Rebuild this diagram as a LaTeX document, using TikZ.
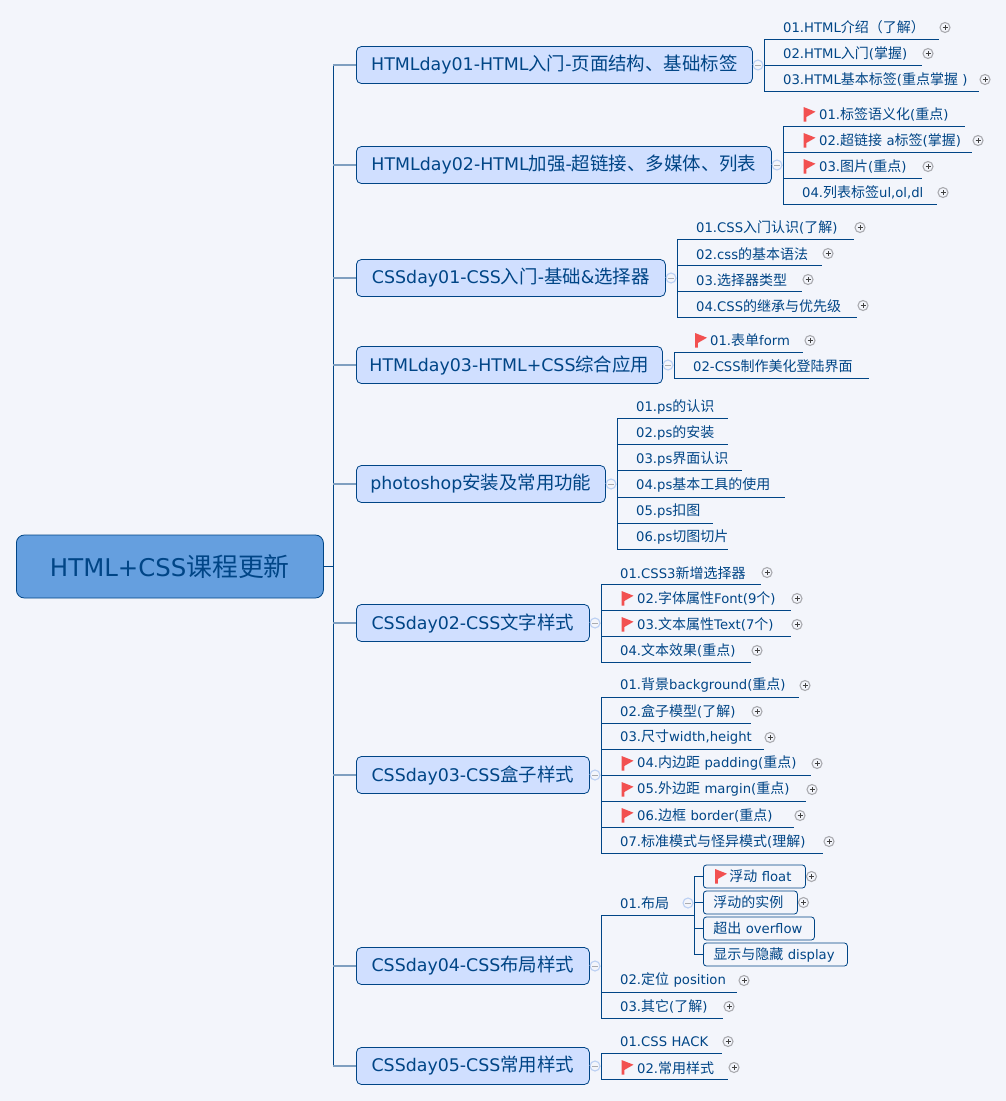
\documentclass[tikz,border=0pt]{standalone}
\usepackage{fontspec}
\setmainfont{DejaVu Sans}
\newfontfamily\zhfont{Noto Sans CJK SC}
% Chinese letters switch to zhfont on their own
\XeTeXinterchartokenstate=1
\newXeTeXintercharclass\zhclass
\newcount\zhchar
\newcommand{\zhrange}[2]{\zhchar=#1\relax\loop\XeTeXcharclass\zhchar=\zhclass\relax\ifnum\zhchar<#2\relax\advance\zhchar by 1\repeat}
\zhrange{"3000}{"303F}
\zhrange{"4E00}{"9FFF}
\zhrange{"FF00}{"FFEF}
\XeTeXinterchartoks 0 \zhclass={\begingroup\zhfont\fontsize{1.06em}{1em}\selectfont}
\XeTeXinterchartoks 4095 \zhclass={\begingroup\zhfont\fontsize{1.06em}{1em}\selectfont}
\XeTeXinterchartoks \zhclass 0={\endgroup}
\XeTeXinterchartoks \zhclass 4095={\endgroup}
\definecolor{paper}{HTML}{F3F5FB}
\definecolor{ink}{HTML}{004586}
\definecolor{rootfill}{HTML}{659FDF}
\definecolor{topicfill}{HTML}{D0DFFF}
\definecolor{spoke}{HTML}{7F9FC0}
\definecolor{redflag}{HTML}{F25050}
\tikzset{
	root/.style={shape=rectangle, rounded corners=8pt, draw=ink, fill=rootfill, line width=0.8pt, text=ink, minimum width=307pt, minimum height=63pt, inner sep=0pt, anchor=west, font=\fontsize{24.4}{26}\selectfont},
	topic/.style={shape=rectangle, rounded corners=5pt, draw=ink, fill=topicfill, line width=0.8pt, text=ink, minimum height=37pt, inner sep=0pt, anchor=west, font=\fontsize{17.4}{20}\selectfont},
	leaf/.style 2 args={shape=rectangle, text=ink, text width=#1pt, minimum height=23pt, inner sep=0pt, align=left, anchor=south west, font=\fontsize{13.2}{15}\selectfont, execute at begin node={\hspace*{#2pt}}},
	box/.style 2 args={shape=rectangle, rounded corners=3pt, draw=ink, fill=paper, line width=0.8pt, text=ink, text width=#1pt, minimum height=23pt, inner sep=0pt, align=left, anchor=west, font=\fontsize{13.2}{15}\selectfont, execute at begin node={\hspace*{#2pt}}},
	wire/.style={draw=ink, line width=1pt},
	arm/.style={draw=spoke, line width=1.6pt},
	plusdot/.style={shape=circle, draw=black!30!paper, fill=paper, line width=1.1pt, minimum size=10pt, inner sep=0pt, path picture={\draw[black!75, line width=0.7pt] ([xshift=-2.5pt]path picture bounding box.center) -- ([xshift=2.5pt]path picture bounding box.center) ([yshift=-2.5pt]path picture bounding box.center) -- ([yshift=2.5pt]path picture bounding box.center);}},
	minusdot/.style={shape=circle, draw=topicfill!90!ink, fill=paper, line width=1.1pt, minimum size=10pt, inner sep=0pt, path picture={\draw[black!30!paper, line width=0.8pt] ([xshift=-3pt]path picture bounding box.center) -- ([xshift=3pt]path picture bounding box.center);}},
	pics/flag/.style={code={\fill[redflag] (0,-7) -- (12,-2.3) -- (2.8,3) -- (2.8,7.5) -- (0,7.5) -- cycle;}}
}

\begin{document}
\begin{tikzpicture}[x=1pt,y=-1pt]
	\fill[paper] (0,0) rectangle (1006,1101);
	\useasboundingbox (0,0) rectangle (1006,1101);
	% Root and topics:
	\node[root] (root) at (16,566.5){HTML+CSS课程更新};
	\coordinate (hub) at (333,566.5);
	\node[topic, minimum width=396pt] (t1) at (356,65){HTMLday01-HTML入门-页面结构、基础标签};
	\node[topic, minimum width=415pt] (t2) at (356,165){HTMLday02-HTML加强-超链接、多媒体、列表};
	\node[topic, minimum width=309pt] (t3) at (356,278){CSSday01-CSS入门-基础\&选择器};
	\node[topic, minimum width=306pt] (t4) at (356,365){HTMLday03-HTML+CSS综合应用};
	\node[topic, minimum width=249pt] (t5) at (356,484){photoshop安装及常用功能};
	\node[topic, minimum width=233pt] (t6) at (356,623){CSSday02-CSS文字样式};
	\node[topic, minimum width=233pt] (t7) at (356,775){CSSday03-CSS盒子样式};
	\node[topic, minimum width=233pt] (t8) at (356,966){CSSday04-CSS布局样式};
	\node[topic, minimum width=233pt] (t9) at (356,1066){CSSday05-CSS常用样式};
	% Leaves:
	\node[leaf={175}{19}] (l11) at (764,39){01.HTML介绍（了解）};
	\node[leaf={158}{19}] (l12) at (764,65){02.HTML入门(掌握)};
	\node[leaf={215}{19}] (l13) at (764,91){03.HTML基本标签(重点掌握 )};
	\node[leaf={182}{36}] (l21) at (783,126.5){01.标签语义化(重点)};
	\node[leaf={189}{36}] (l22) at (783,152.5){02.超链接 a标签(掌握)};
	\node[leaf={139}{36}] (l23) at (783,178.5){03.图片(重点)};
	\node[leaf={154}{19}] (l24) at (783,204.5){04.列表标签ul,ol,dl};
	\node[leaf={177}{19}] (l31) at (677,239.5){01.CSS入门认识(了解)};
	\node[leaf={145}{19}] (l32) at (677,265.5){02.css的基本语法};
	\node[leaf={125}{19}] (l33) at (677,291.5){03.选择器类型};
	\node[leaf={180}{19}] (l34) at (677,317.5){04.CSS的继承与优先级};
	\node[leaf={129}{36}] (l41) at (674,352){01.表单form};
	\node[leaf={195}{19}] (l42) at (674,378){02-CSS制作美化登陆界面};
	\node[leaf={111}{19}] (l51) at (617,418.5){01.ps的认识};
	\node[leaf={111}{19}] (l52) at (617,444.5){02.ps的安装};
	\node[leaf={125}{19}] (l53) at (617,470.5){03.ps界面认识};
	\node[leaf={168}{19}] (l54) at (617,497){04.ps基本工具的使用};
	\node[leaf={96}{19}] (l55) at (617,523){05.ps扣图};
	\node[leaf={111}{19}] (l56) at (617,549){06.ps切图切片};
	\node[leaf={160}{19}] (l61) at (601,584.5){01.CSS3新增选择器};
	\node[leaf={190}{36}] (l62) at (601,610.5){02.字体属性Font(9个)};
	\node[leaf={190}{36}] (l63) at (601,636.5){03.文本属性Text(7个)};
	\node[leaf={150}{19}] (l64) at (601,662.5){04.文本效果(重点)};
	\node[leaf={198}{19}] (l71) at (601,697){01.背景background(重点)};
	\node[leaf={150}{19}] (l72) at (601,723){02.盒子模型(了解)};
	\node[leaf={163}{19}] (l73) at (601,749){03.尺寸width,height};
	\node[leaf={210}{36}] (l74) at (601,775){04.内边距 padding(重点)};
	\node[leaf={205}{36}] (l75) at (601,801){05.外边距 margin(重点)};
	\node[leaf={193}{36}] (l76) at (601,827){06.边框 border(重点)};
	\node[leaf={222}{19}] (l77) at (601,853){07.标准模式与怪异模式(理解)};
	\node[leaf={93}{19}] (l81) at (601,915){01.布局};
	\node[leaf={136}{19}] (l82) at (601,992){02.定位 position};
	\node[leaf={122}{19}] (l83) at (601,1018){03.其它(了解)};
	\node[leaf={121}{19}] (l91) at (601,1053){01.CSS HACK};
	\node[leaf={127}{36}] (l92) at (601,1079.5){02.常用样式};
	% Boxes under 01.布局:
	\coordinate (sub) at (694,903);
	\node[box={102}{26}] (b1) at (703,876.5){浮动 float};
	\node[box={94}{10}] (b2) at (703,902.5){浮动的实例};
	\node[box={111}{10}] (b3) at (703,928.5){超出 overflow};
	\node[box={144}{10}] (b4) at (703,954.5){显示与隐藏 display};
	% Spine and arms:
	\draw[wire] (root.east) -- (hub);
	\draw[wire] (hub |- t1.west) -- (hub |- t9.west);
	\draw[arm] (hub |- t1.west) -- (t1.west);
	\draw[arm] (hub |- t2.west) -- (t2.west);
	\draw[arm] (hub |- t3.west) -- (t3.west);
	\draw[arm] (hub |- t4.west) -- (t4.west);
	\draw[arm] (hub |- t5.west) -- (t5.west);
	\draw[arm] (hub |- t6.west) -- (t6.west);
	\draw[arm] (hub |- t7.west) -- (t7.west);
	\draw[arm] (hub |- t8.west) -- (t8.west);
	\draw[arm] (hub |- t9.west) -- (t9.west);
	% Brackets:
	\draw[wire] (l11.south west) -- (l13.south west);
	\draw[wire] (l21.south west) -- (l24.south west);
	\draw[wire] (l31.south west) -- (l34.south west);
	\draw[wire] (l41.south west) -- (l42.south west);
	\draw[wire] (l51.south west) -- (l56.south west);
	\draw[wire] (l61.south west) -- (l64.south west);
	\draw[wire] (l71.south west) -- (l77.south west);
	\draw[wire] (l81.south west) -- (l83.south west);
	\draw[wire] (l91.south west) -- (l92.south west);
	\draw[wire] (sub |- b1.west) -- (sub |- b4.west);
	% Underlines:
	\draw[wire] (l11.south west) -- (l11.south east);
	\draw[wire] (l12.south west) -- (l12.south east);
	\draw[wire] (l13.south west) -- (l13.south east);
	\draw[wire] (l21.south west) -- (l21.south east);
	\draw[wire] (l22.south west) -- (l22.south east);
	\draw[wire] (l23.south west) -- (l23.south east);
	\draw[wire] (l24.south west) -- (l24.south east);
	\draw[wire] (l31.south west) -- (l31.south east);
	\draw[wire] (l32.south west) -- (l32.south east);
	\draw[wire] (l33.south west) -- (l33.south east);
	\draw[wire] (l34.south west) -- (l34.south east);
	\draw[wire] (l41.south west) -- (l41.south east);
	\draw[wire] (l42.south west) -- (l42.south east);
	\draw[wire] (l51.south west) -- (l51.south east);
	\draw[wire] (l52.south west) -- (l52.south east);
	\draw[wire] (l53.south west) -- (l53.south east);
	\draw[wire] (l54.south west) -- (l54.south east);
	\draw[wire] (l55.south west) -- (l55.south east);
	\draw[wire] (l56.south west) -- (l56.south east);
	\draw[wire] (l61.south west) -- (l61.south east);
	\draw[wire] (l62.south west) -- (l62.south east);
	\draw[wire] (l63.south west) -- (l63.south east);
	\draw[wire] (l64.south west) -- (l64.south east);
	\draw[wire] (l71.south west) -- (l71.south east);
	\draw[wire] (l72.south west) -- (l72.south east);
	\draw[wire] (l73.south west) -- (l73.south east);
	\draw[wire] (l74.south west) -- (l74.south east);
	\draw[wire] (l75.south west) -- (l75.south east);
	\draw[wire] (l76.south west) -- (l76.south east);
	\draw[wire] (l77.south west) -- (l77.south east);
	\draw[wire] (l81.south west) -- (l81.south east);
	\draw[wire] (l82.south west) -- (l82.south east);
	\draw[wire] (l83.south west) -- (l83.south east);
	\draw[wire] (l91.south west) -- (l91.south east);
	\draw[wire] (l92.south west) -- (l92.south east);
	% Collapse dots:
	\node[minusdot] (m1) at (758,65){};
	\node[minusdot] (m2) at (777,165){};
	\node[minusdot] (m3) at (671,278){};
	\node[minusdot] (m4) at (668,365){};
	\node[minusdot] (m5) at (611,484){};
	\node[minusdot] (m6) at (595,623){};
	\node[minusdot] (m7) at (595,775){};
	\node[minusdot] (m8) at (595,966){};
	\node[minusdot] (m9) at (595,1066){};
	\node[minusdot] (m81) at (688,903){};
	\draw[wire] (t1.east) -- (m1.west) (m1.east) -- (m1 -| l11.south west);
	\draw[wire] (t2.east) -- (m2.west) (m2.east) -- (m2 -| l21.south west);
	\draw[wire] (t3.east) -- (m3.west) (m3.east) -- (m3 -| l31.south west);
	\draw[wire] (t4.east) -- (m4.west) (m4.east) -- (m4 -| l41.south west);
	\draw[wire] (t5.east) -- (m5.west) (m5.east) -- (m5 -| l51.south west);
	\draw[wire] (t6.east) -- (m6.west) (m6.east) -- (m6 -| l61.south west);
	\draw[wire] (t7.east) -- (m7.west) (m7.east) -- (m7 -| l71.south west);
	\draw[wire] (t8.east) -- (m8.west) (m8.east) -- (m8 -| l81.south west);
	\draw[wire] (t9.east) -- (m9.west) (m9.east) -- (m9 -| l91.south west);
	\draw[wire] (m81.east) -- (sub);
	\draw[wire] (sub |- b1.west) -- (b1.west);
	\draw[wire] (sub |- b2.west) -- (b2.west);
	\draw[wire] (sub |- b3.west) -- (b3.west);
	\draw[wire] (sub |- b4.west) -- (b4.west);
	% Expand dots:
	\node[plusdot] (p11) at (945,27.5){};
	\node[plusdot] (p12) at (928,53.5){};
	\node[plusdot] (p13) at (985,79.5){};
	\node[plusdot] (p22) at (978,140.5){};
	\node[plusdot] (p23) at (928,166.5){};
	\node[plusdot] (p24) at (943,192.5){};
	\node[plusdot] (p31) at (860,227.5){};
	\node[plusdot] (p32) at (828,253.5){};
	\node[plusdot] (p33) at (808,279.5){};
	\node[plusdot] (p34) at (863,305.5){};
	\node[plusdot] (p41) at (810,340.5){};
	\node[plusdot] (p61) at (767,572.5){};
	\node[plusdot] (p62) at (797,598.5){};
	\node[plusdot] (p63) at (797,624.5){};
	\node[plusdot] (p64) at (757,650.5){};
	\node[plusdot] (p71) at (805,685.5){};
	\node[plusdot] (p72) at (757,711.5){};
	\node[plusdot] (p73) at (770,737.5){};
	\node[plusdot] (p74) at (817,763.5){};
	\node[plusdot] (p75) at (812,789.5){};
	\node[plusdot] (p76) at (800,815.5){};
	\node[plusdot] (p77) at (829,841.5){};
	\node[plusdot] (p82) at (744,980.5){};
	\node[plusdot] (p83) at (729,1006.5){};
	\node[plusdot] (p91) at (728,1041.5){};
	\node[plusdot] (p92) at (734,1067.5){};
	\node[plusdot] (pb1) at (811.5,876.5){};
	\node[plusdot] (pb2) at (803.5,902.5){};
	% Flags:
	\pic at (803.5,114) {flag};
	\pic at (803.5,140) {flag};
	\pic at (803.5,166) {flag};
	\pic at (695,340) {flag};
	\pic at (621.5,598) {flag};
	\pic at (621.5,624) {flag};
	\pic at (621.5,763) {flag};
	\pic at (621.5,789) {flag};
	\pic at (621.5,815) {flag};
	\pic at (715,876) {flag};
	\pic at (621.5,1067) {flag};
\end{tikzpicture}
\end{document}
